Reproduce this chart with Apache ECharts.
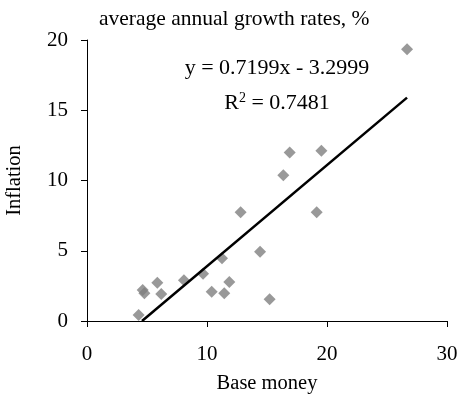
<!DOCTYPE html>
<html>
<head>
<meta charset="utf-8">
<script src="https://cdn.jsdelivr.net/npm/echarts@6/dist/echarts.min.js"></script>
<style>html,body{margin:0;padding:0;background:#fff;}#c{width:460px;height:399px;}</style>
</head>
<body>
<div id="c"></div>
<script>
const baseMoney = [26.67, 16.89, 19.53, 16.36, 12.8, 19.14, 14.42, 11.25, 9.67, 8.08, 5.86, 4.64, 4.78, 6.19, 11.86, 10.39, 11.44, 15.22, 4.3];
const inflation = [19.34, 12.0, 12.12, 10.37, 7.74, 7.74, 4.93, 4.46, 3.37, 2.9, 2.73, 2.2, 1.97, 1.92, 2.78, 2.09, 1.97, 1.54, 0.43];
const trendSlope = 0.7199;
const trendIntercept = -3.2999;
const xTicks = [0, 10, 20, 30];
const yTicks = [0, 5, 10, 15, 20];

const pts = baseMoney.map((x, i) => [x, inflation[i]]);
const xMin = Math.max(Math.min(...baseMoney), -trendIntercept / trendSlope);
const xMax = Math.max(...baseMoney);
const trend = [[xMin, trendSlope * xMin + trendIntercept], [xMax, trendSlope * xMax + trendIntercept]];

const font = 'Liberation Serif';
const chart = echarts.init(document.getElementById('c'));
chart.setOption({
  animation: false,
  textStyle: {fontFamily: font},
  grid: {left: 87, right: 13, top: 40, bottom: 78, containLabel: false, outerBoundsMode: 'none'},
  title: [
    {text: 'average annual growth rates, %', left: 94, top: 3, textStyle: {fontFamily: font, fontSize: 21.5, fontWeight: 'normal', color: '#000'}},
    {text: 'y = 0.7199x - 3.2999\n{r|R}{sup|2}{r| = 0.7481}', left: 272, top: 46, textAlign: 'center',
     textStyle: {fontFamily: font, fontSize: 22, fontWeight: 'normal', color: '#000', lineHeight: 35, align: 'center',
       rich: {r: {fontFamily: font, fontSize: 22, color: '#000', lineHeight: 35}, sup: {fontFamily: font, fontSize: 14, color: '#000', verticalAlign: 'top', lineHeight: 30, padding: [5, 0, 0, 0]}}}}
  ],
  xAxis: {
    type: 'value', min: 0, max: 30, interval: 10,
    name: 'Base money', nameLocation: 'middle', nameGap: 52,
    nameTextStyle: {fontFamily: font, fontSize: 20.5, color: '#000'},
    axisLine: {lineStyle: {color: '#000', width: 1}},
    axisTick: {show: true, inside: false, length: 6, lineStyle: {color: '#000'}},
    axisLabel: {fontFamily: font, fontSize: 21, color: '#000', margin: 23, formatter: v => xTicks.includes(v) ? String(v) : ''},
    splitLine: {show: false}
  },
  yAxis: {
    type: 'value', min: 0, max: 20, interval: 5,
    name: 'Inflation', nameLocation: 'middle', nameGap: 62, nameRotate: 90,
    nameTextStyle: {fontFamily: font, fontSize: 20.5, color: '#000'},
    axisLine: {show: true, lineStyle: {color: '#000', width: 1}},
    axisTick: {show: true, inside: false, length: 6, lineStyle: {color: '#000'}},
    axisLabel: {fontFamily: font, fontSize: 21, color: '#000', margin: 19, formatter: v => yTicks.includes(v) ? String(v) : ''},
    splitLine: {show: false}
  },
  series: [
    {type: 'scatter', data: pts, symbol: 'diamond', symbolSize: 12, itemStyle: {color: '#808080'}, z: 2},
    {type: 'line', data: trend, symbol: 'none', lineStyle: {color: '#000', width: 2.5}, z: 3}
  ]
});
</script>
</body>
</html>
